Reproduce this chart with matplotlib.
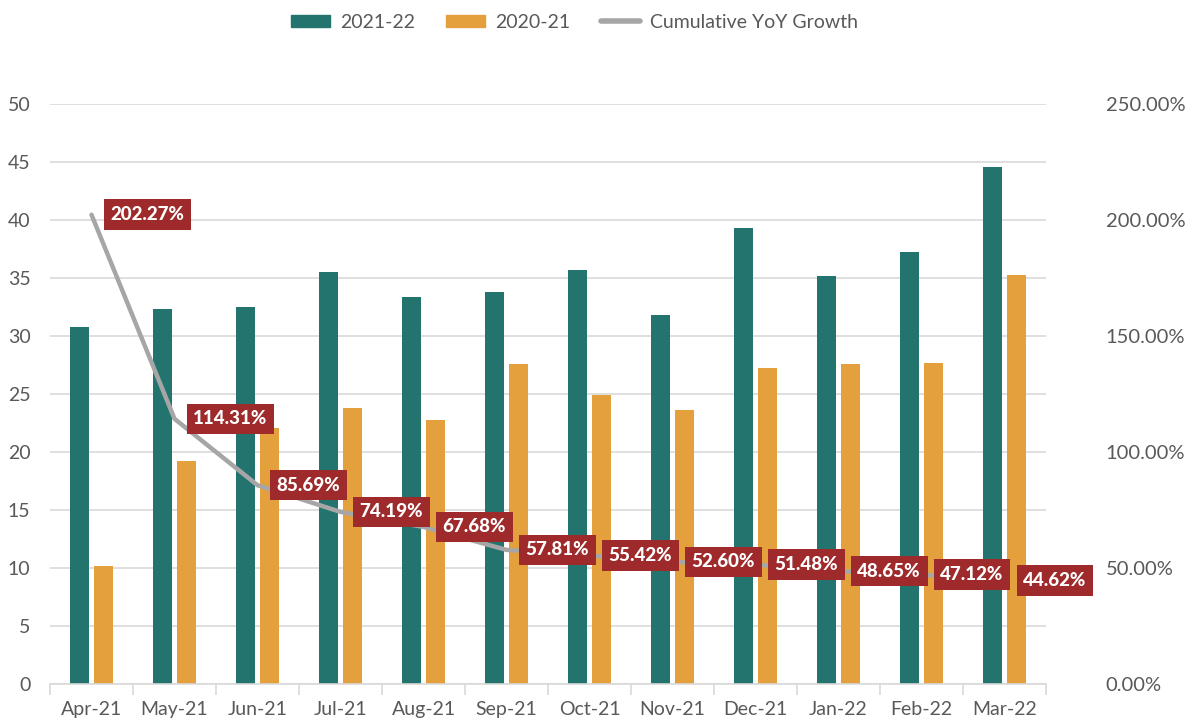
import matplotlib
matplotlib.use("Agg")
import matplotlib.pyplot as plt
import numpy as np
from matplotlib.ticker import FuncFormatter, FixedLocator
from matplotlib.patches import Patch
from matplotlib.lines import Line2D

plt.rcParams['font.family'] = ['Lato', 'DejaVu Sans']

months = ["Apr-21", "May-21", "Jun-21", "Jul-21", "Aug-21", "Sep-21", "Oct-21",
          "Nov-21", "Dec-21", "Jan-22", "Feb-22", "Mar-22"]
fy2122 = [30.8, 32.3, 32.5, 35.5, 33.4, 33.8, 35.7, 31.8, 39.3, 35.2, 37.2, 44.6]
fy2021 = [10.2, 19.2, 22.1, 23.8, 22.8, 27.6, 24.9, 23.6, 27.2, 27.6, 27.7, 35.3]
growth = [202.27, 114.31, 85.69, 74.19, 67.68, 57.81, 55.42, 52.60, 51.48, 48.65, 47.12, 44.62]

teal = "#23736F"
orange = "#E3A03D"
gray = "#A6A6A6"
red = "#9E2A2B"
txt = "#595959"

fig = plt.figure(figsize=(12.02, 7.22), dpi=100)
ax = fig.add_axes([50/1202, 1-684/722, (1046-50)/1202, (684-104)/722])
x = np.arange(len(months))
w = 0.23
ax.bar(x - w/2 - 0.03, fy2122, width=w, color=teal, zorder=2)
ax.bar(x + w/2 + 0.03, fy2021, width=w, color=orange, zorder=2)
ax.set_xlim(-0.5, len(months) - 0.5)
ax.set_ylim(0, 50)
ax.set_yticks(range(0, 51, 5))
ax.grid(axis='y', color='#D9D9D9', linewidth=1.2, zorder=0)
ax.set_axisbelow(True)
for s in ['top', 'right', 'left']:
    ax.spines[s].set_visible(False)
ax.spines['bottom'].set_color('#D9D9D9')
ax.spines['bottom'].set_linewidth(1.2)
ax.set_xticks(x)
ax.set_xticklabels(months)
ax.xaxis.set_minor_locator(FixedLocator(np.arange(-0.5, len(months), 1)))
ax.tick_params(axis='x', which='major', length=0, pad=12, labelsize=14, labelcolor=txt)
ax.tick_params(axis='x', which='minor', length=8, color='#D9D9D9', width=1.2)
ax.tick_params(axis='y', length=0, pad=14, labelsize=14, labelcolor=txt)

ax2 = ax.twinx()
ax2.set_ylim(0, 250)
ax2.set_yticks(range(0, 251, 50))
ax2.yaxis.set_major_formatter(FuncFormatter(lambda v, p: f"{v:.2f}%"))
ax2.tick_params(axis='y', length=0, pad=43, labelsize=14.5, labelcolor=txt)
for s in ax2.spines.values():
    s.set_visible(False)
ax2.plot(x, growth, color=gray, linewidth=3.2, solid_capstyle='round', zorder=3)
for i, g in enumerate(growth):
    ax2.annotate(f"{g:.2f}%", (x[i], g), xytext=(13.6, 0), textcoords='offset points',
                 ha='left', va='center', color='white', fontsize=13.5, fontweight='black',
                 bbox=dict(boxstyle='square,pad=0.36', fc=red, ec='none'), zorder=4)

handles = [Patch(color=teal, label='2021-22'), Patch(color=orange, label='2020-21'),
           Line2D([0], [0], color=gray, linewidth=4, solid_capstyle='round', label='Cumulative YoY Growth')]
leg = fig.legend(handles=handles, loc='upper center', bbox_to_anchor=(0.478, 1.005), ncol=3,
                 frameon=False, fontsize=14, handlelength=2.0, handleheight=0.6, columnspacing=1.6,
                 handletextpad=0.5)
for t in leg.get_texts():
    t.set_color(txt)

fig.savefig("out.png", dpi=100)
